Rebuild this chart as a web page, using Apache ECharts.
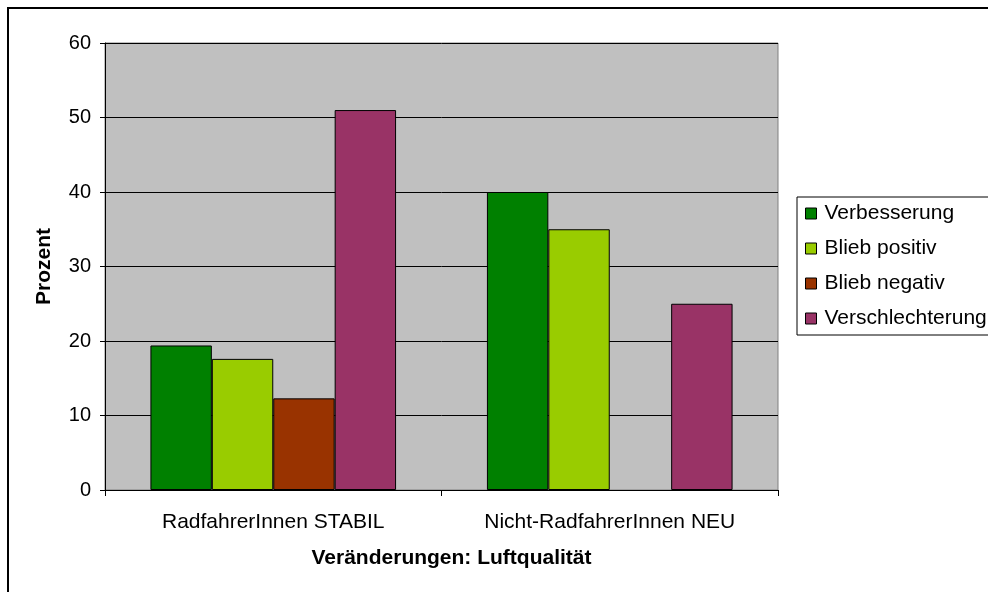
<!DOCTYPE html>
<html>
<head>
<meta charset="utf-8">
<script src="https://cdn.jsdelivr.net/npm/echarts@6/dist/echarts.min.js"></script>
<style>
  html, body { margin: 0; padding: 0; background: #fff; }
  #chart { width: 988px; height: 592px; }
</style>
</head>
<body>
<div id="chart"></div>
<script>
// Kategorien und Werte (Prozent)
const categories = ["RadfahrerInnen STABIL", "Nicht-RadfahrerInnen NEU"];
const verbesserung = [19.4, 40];
const bliebPositiv = [17.6, 35];
const bliebNegativ = [12.3, null];
const verschlechterung = [51, 25];
const seriesNames = ["Verbesserung", "Blieb positiv", "Blieb negativ", "Verschlechterung"];
const seriesColors = ["#008000", "#99CC00", "#993300", "#993366"];

const font = "'Liberation Sans', Arial, sans-serif";

const chart = echarts.init(document.getElementById("chart"));

const bar = (name, data, color) => ({
  name: name,
  type: "bar",
  data: data,
  barGap: "0%",
  barCategoryGap: "27%",
  itemStyle: { color: color, borderColor: "#000", borderWidth: 1 },
});

chart.setOption({
  animation: false,
  textStyle: { fontFamily: font },
  graphic: [
    {
      type: "rect",
      shape: { x: 8, y: 8, width: 1000, height: 620 },
      style: { fill: "none", stroke: "#000", lineWidth: 2 },
      silent: true,
    },
  ],
  grid: {
    left: 105,
    right: 210,
    top: 43,
    bottom: 102,
    show: true,
    backgroundColor: "#C0C0C0",
    borderColor: "#808080",
    borderWidth: 1,
  },
  legend: {
    orient: "vertical",
    left: 797,
    top: 197,
    data: seriesNames,
    icon: "rect",
    itemWidth: 11,
    itemHeight: 11,
    itemGap: 14,
    padding: [6, 8, 6, 8],
    borderColor: "#000",
    borderWidth: 1,
    backgroundColor: "#fff",
    itemStyle: { borderColor: "#000", borderWidth: 1 },
    textStyle: {
      fontFamily: font,
      fontSize: 21,
      color: "#000",
      lineHeight: 21,
      padding: [0, 0, 0, 3],
    },
  },
  xAxis: {
    type: "category",
    data: categories,
    name: "Veränderungen: Luftqualität",
    nameLocation: "middle",
    nameGap: 58,
    nameTextStyle: {
      fontFamily: font,
      fontSize: 21,
      fontWeight: "bold",
      color: "#000",
      padding: [0, 0, 0, 20],
    },
    axisLine: { lineStyle: { color: "#000", width: 1 } },
    axisTick: { show: true, length: 6, lineStyle: { color: "#000" } },
    axisLabel: { fontSize: 21, color: "#000", margin: 22 },
  },
  yAxis: {
    type: "value",
    min: 0,
    max: 60,
    interval: 10,
    name: "Prozent",
    nameLocation: "middle",
    nameGap: 50,
    nameTextStyle: {
      fontFamily: font,
      fontSize: 21,
      fontWeight: "bold",
      color: "#000",
    },
    axisLine: { show: true, lineStyle: { color: "#000", width: 1 } },
    axisTick: { show: true, length: 5, lineStyle: { color: "#000" } },
    axisLabel: { fontSize: 20, color: "#000", margin: 14 },
    splitLine: { lineStyle: { color: "#000", width: 1 } },
  },
  series: [
    bar(seriesNames[0], verbesserung, seriesColors[0]),
    bar(seriesNames[1], bliebPositiv, seriesColors[1]),
    bar(seriesNames[2], bliebNegativ, seriesColors[2]),
    bar(seriesNames[3], verschlechterung, seriesColors[3]),
  ],
});
</script>
</body>
</html>
